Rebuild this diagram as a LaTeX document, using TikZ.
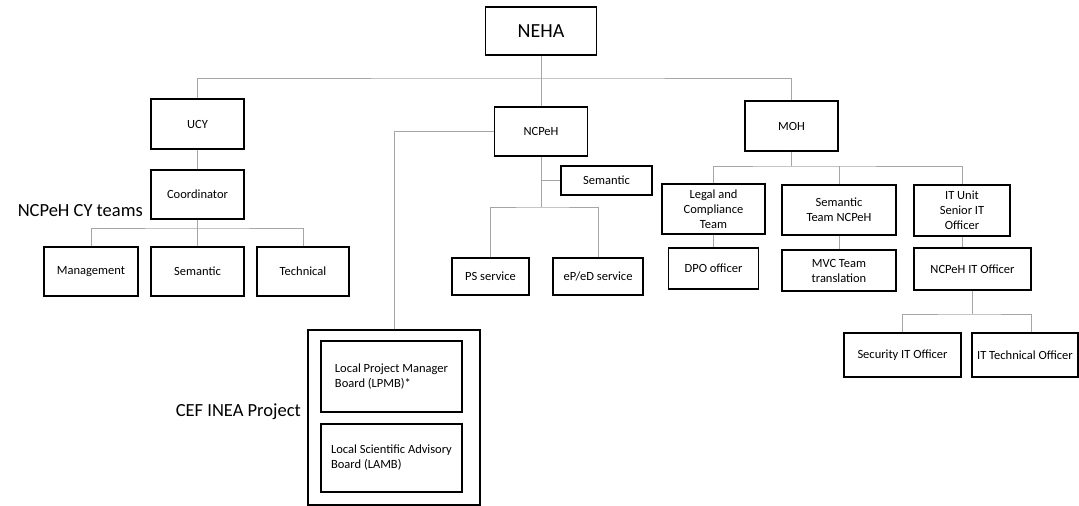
\documentclass[tikz,border=0pt]{standalone}
\usepackage{fontspec}
\setmainfont{Carlito}
\begin{document}
\begin{tikzpicture}[x=1pt,y=-1pt,
  box/.style={draw=black, line width=1.2pt, inner sep=0pt, align=center,
    font=\fontsize{12.5}{15}\selectfont},
  conn/.style={draw=black!35, line width=0.9pt},
  biglabel/.style={inner sep=0pt, font=\fontsize{18.5}{22}\selectfont}]
\useasboundingbox (0,0) rectangle (1079,506);

% top level
\node[box, minimum width=111, minimum height=48, font=\fontsize{20}{24}\selectfont] (neha) at (541,31) {NEHA};

% second row
\node[box, minimum width=93, minimum height=50] (ucy) at (197.5,124) {UCY};
\node[box, minimum width=93, minimum height=49] (ncpeh) at (541,131.5) {NCPeH};
\node[box, minimum width=93, minimum height=50] (moh) at (791.5,126) {MOH};

% UCY branch
\node[box, minimum width=93, minimum height=49] (coord) at (197.5,194.5) {Coordinator};
\node[biglabel, anchor=base east] (cylabel) at (143,216.5) {NCPeH CY teams};
\node[box, minimum width=94, minimum height=49] (mgmt) at (91,271.5) {Management};
\node[box, minimum width=93, minimum height=49] (sem1) at (197.5,271.5) {Semantic};
\node[box, minimum width=92, minimum height=49] (tech) at (303,271.5) {Technical};

% NCPeH branch
\node[box, minimum width=91, minimum height=29] (semside) at (606.5,180.5) {Semantic};
\node[box, minimum width=77, minimum height=37] (ps) at (490.5,276.5) {PS service};
\node[box, minimum width=90, minimum height=37] (eped) at (598,276.5) {eP/eD service};

% CEF INEA project
\node[box, minimum width=172, minimum height=175] (cef) at (394,417.5) {};
\node[box, minimum width=141, minimum height=71, align=left] (lpmb) at (391.5,376.5) {Local Project Manager\\Board (LPMB)*};
\node[box, minimum width=141, minimum height=68, align=left] (lamb) at (391.5,458) {Local Scientific Advisory\\Board (LAMB)};
\node[biglabel, anchor=base east] (ceflabel) at (301,416) {CEF INEA Project};

% MOH branch
\node[box, minimum width=103, minimum height=50] (legal) at (713.5,209) {Legal and\\Compliance\\Team};
\node[box, minimum width=114, minimum height=50] (semteam) at (839,210) {Semantic\\Team NCPeH};
\node[box, minimum width=96, minimum height=51] (itunit) at (962,210.5) {IT Unit\\Senior IT\\Officer};
\node[box, minimum width=90, minimum height=41] (dpo) at (713.5,268.5) {DPO officer};
\node[box, minimum width=114, minimum height=41] (mvc) at (839,270.5) {MVC Team\\translation};
\node[box, minimum width=117, minimum height=42] (itoff) at (972.5,269) {NCPeH IT Officer};
\node[box, minimum width=117, minimum height=44] (sec) at (902.5,355) {Security IT Officer};
\node[box, minimum width=106, minimum height=44] (ittech) at (1025,355) {IT Technical Officer};

% bus coordinates
\coordinate (topbus) at (541,78);
\coordinate (cybus) at (197.5,228);
\coordinate (ncbus) at (541,207);
\coordinate (mohbus) at (791.5,166);
\coordinate (itbus) at (972.5,314);

% connectors
\draw[conn] (neha.south) -- (ncpeh.north);
\draw[conn] (ucy.north) |- (topbus) -| (moh.north);
\draw[conn] (ucy.south) -- (coord.north);
\draw[conn] (coord.south) -- (sem1.north);
\draw[conn] (mgmt.north) |- (cybus) -| (tech.north);
\draw[conn] (ncpeh.west) -| (cef.north);
\draw[conn] (ncpeh.south) -- (ncbus);
\draw[conn] (ps.north) |- (ncbus) -| (eped.north);
\draw[conn] (semside.west) -- (semside.west -| ncpeh.south);
\draw[conn] (moh.south) -- (mohbus);
\draw[conn] (legal.north) |- (mohbus) -| (itunit.north);
\draw[conn] (semteam.north) -- (semteam.north |- mohbus);
\draw[conn] (legal.south) -- (dpo.north);
\draw[conn] (semteam.south) -- (mvc.north);
\draw[conn] (itunit.south) -- (itunit.south |- itoff.north);
\draw[conn] (itoff.south) -- (itbus);
\draw[conn] (sec.north) |- (itbus) -| ([xshift=6pt]ittech.north);
\end{tikzpicture}
\end{document}
